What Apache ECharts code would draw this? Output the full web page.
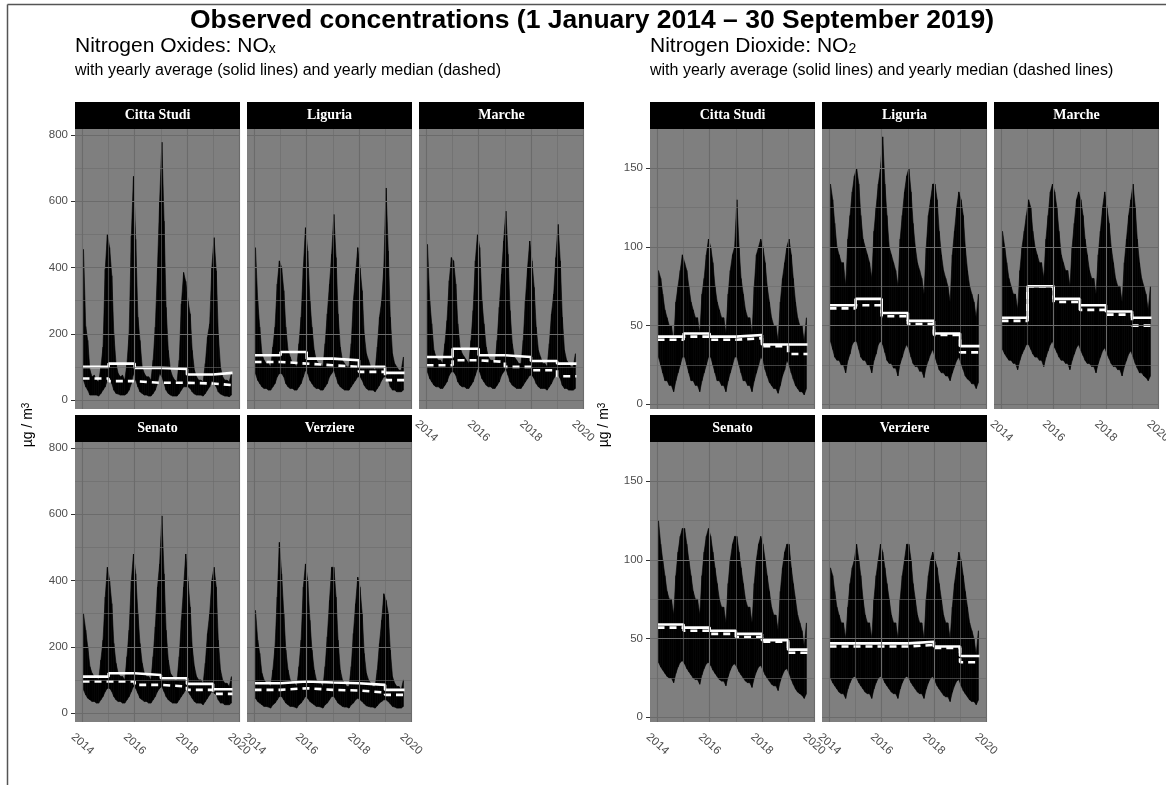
<!DOCTYPE html>
<html>
<head>
<meta charset="utf-8">
<title>Observed concentrations</title>
<script src="https://cdn.jsdelivr.net/npm/echarts@6/dist/echarts.min.js"></script>
<style>
  html, body { margin: 0; padding: 0; background: #ffffff; }
  #chart { width: 1166px; height: 785px; }
</style>
</head>
<body>
<div id="chart"></div>
<script>
// ---- data -------------------------------------------------------------
const stations = ['Citta Studi', 'Liguria', 'Marche', 'Senato', 'Verziere'];
const years = [2014, 2015, 2016, 2017, 2018, 2019];
const xTickYears = [2014, 2016, 2018, 2020];
const xMinorYears = [2015, 2017, 2019];
const noxTicks = [0, 200, 400, 600, 800];
const noxMinor = [100, 300, 500, 700];
const no2Ticks = [0, 50, 100, 150];
const no2Minor = [25, 75, 125, 175];

// monthly low / high of the daily concentrations, Jan 2014 - Sep 2019 (ug/m3)
const noxCittaStudiHi = [455,222,180,90,70,75,60,55,100,160,395,500, 460,375,200,110,80,70,75,60,110,200,495,675, 485,250,180,100,80,70,70,60,120,220,400,600, 778,540,280,150,90,70,60,55,120,290,385,358, 300,260,150,90,70,60,60,55,110,190,230,400, 490,390,200,100,70,60,60,55,80];
const noxCittaStudiLo = [60,40,30,15,15,15,15,12,20,30,40,60, 60,50,30,20,18,15,15,15,20,30,50,80, 60,40,25,20,15,15,12,12,20,30,50,80, 70,50,30,20,15,12,12,12,20,30,40,40, 40,35,25,18,15,15,15,12,20,30,40,60, 50,40,25,18,15,12,12,10,15];
const noxLiguriaHi = [460,300,220,140,120,110,110,100,160,220,350,420, 400,330,220,150,130,110,110,100,170,250,400,520, 450,300,220,150,120,110,110,100,170,260,350,440, 560,430,260,160,120,110,100,100,170,300,380,460, 400,330,200,140,120,100,100,90,160,250,300,400, 640,450,250,140,110,100,90,90,130];
const noxLiguriaLo = [80,60,50,40,35,35,30,30,40,50,70,80, 80,70,50,40,35,35,30,30,40,50,70,90, 80,60,50,40,35,35,30,30,40,50,70,80, 90,70,50,40,35,30,30,30,40,50,60,70, 70,60,45,35,30,30,30,25,35,45,60,70, 70,60,40,30,30,25,25,25,30];
const noxMarcheHi = [470,300,230,150,130,120,120,110,170,240,360,430, 420,350,230,160,140,130,120,110,180,270,420,500, 460,300,230,160,130,120,120,110,180,280,380,480, 570,440,270,170,130,120,110,110,180,300,400,480, 420,340,220,150,130,110,110,100,170,260,320,430, 530,420,250,150,120,110,100,100,140];
const noxMarcheLo = [85,65,55,45,40,40,35,35,45,55,75,85, 85,75,55,45,40,40,35,35,45,55,75,95, 85,65,55,45,40,40,35,35,45,55,75,85, 95,75,55,45,40,35,35,35,45,55,65,75, 75,65,50,40,35,35,35,30,40,50,65,75, 75,65,45,35,35,30,30,30,35];
const noxSenatoHi = [300,250,200,140,120,110,110,100,160,220,350,440, 400,330,210,150,120,110,110,100,170,250,400,480, 420,300,210,150,120,110,110,100,170,260,380,450, 595,420,250,160,120,110,100,100,170,280,380,480, 400,320,200,140,110,100,100,90,150,240,300,400, 440,380,220,130,100,90,90,80,110];
const noxSenatoLo = [70,55,45,40,35,35,30,30,40,50,65,75, 75,65,50,40,35,35,30,30,40,50,65,80, 75,60,45,40,35,35,30,30,40,50,65,75, 80,65,50,40,35,30,30,30,40,50,60,70, 65,55,45,35,30,30,30,25,35,45,55,65, 60,55,40,30,30,25,25,25,30];
const noxVerziereHi = [310,220,180,120,100,90,90,80,130,200,350,515, 420,300,190,130,100,90,90,80,140,220,380,450, 400,280,190,130,100,90,90,80,140,230,340,440, 440,350,220,130,100,90,80,80,140,240,330,410, 380,300,180,120,100,90,80,80,130,210,280,360, 340,300,190,110,90,80,80,70,100];
const noxVerziereLo = [45,35,30,25,20,20,18,15,25,30,40,50, 50,40,30,25,20,20,18,15,25,30,40,50, 45,35,30,25,20,20,18,15,25,30,40,50, 50,40,30,25,20,18,18,15,25,30,40,45, 40,35,28,22,20,18,18,15,22,30,35,40, 40,35,28,20,18,15,15,15,20];

const no2CittaStudiHi = [85,80,70,60,55,50,50,40,65,75,85,95, 90,85,75,65,60,55,55,45,70,80,95,105, 100,90,75,65,60,55,55,45,70,85,95,100, 130,100,80,70,60,55,55,45,75,95,100,105, 100,90,75,65,55,50,50,40,65,80,90,100, 105,95,80,65,55,50,50,40,55];
const no2CittaStudiLo = [30,25,20,15,15,12,12,8,15,20,25,30, 30,25,20,15,15,12,12,8,15,20,25,30, 30,25,20,15,15,12,12,8,15,20,25,30, 30,25,20,15,15,12,12,8,15,20,25,30, 28,22,18,14,12,10,10,7,12,18,22,28, 25,20,16,12,10,8,8,6,10];
const no2LiguriaHi = [140,130,115,100,95,90,90,75,105,120,135,145, 150,140,120,105,100,95,90,80,110,125,140,150, 170,140,120,100,95,90,85,75,105,120,135,145, 150,135,115,100,90,85,80,70,100,120,130,140, 140,130,110,95,85,80,75,65,95,110,125,135, 130,120,100,85,75,70,65,55,70];
const no2LiguriaLo = [40,35,30,28,28,25,25,20,28,32,38,40, 40,35,30,28,28,25,25,20,28,32,38,40, 38,33,28,26,26,23,23,18,26,30,35,38, 35,30,26,24,24,21,21,17,24,28,32,35, 30,26,22,20,20,18,18,15,20,24,28,30, 26,22,18,16,15,13,13,10,14];
const no2MarcheHi = [110,100,90,80,75,70,70,60,85,100,110,120, 130,125,110,100,95,90,90,80,105,120,135,140, 135,125,110,95,90,85,85,75,100,115,130,135, 130,120,105,95,85,80,80,70,95,110,125,135, 125,115,100,90,80,75,75,65,90,105,120,130, 140,125,105,90,80,75,70,60,75];
const no2MarcheLo = [35,32,30,28,28,26,26,22,28,32,35,38, 38,35,32,30,30,28,28,24,30,34,38,40, 36,33,30,28,28,26,26,22,28,32,36,38, 34,31,28,26,26,24,24,20,26,30,34,36, 32,29,26,24,24,22,22,18,24,28,32,34, 30,26,23,20,20,18,17,15,18];
const no2SenatoHi = [125,110,100,90,80,75,75,65,90,105,115,120, 120,110,100,90,80,75,75,65,90,105,115,120, 115,105,95,85,75,70,70,60,85,100,110,115, 115,105,95,85,75,70,70,60,85,100,110,115, 110,100,90,80,70,65,65,55,80,95,105,110, 110,95,85,75,65,60,55,45,60];
const no2SenatoLo = [35,32,30,28,26,25,25,22,28,32,35,36, 34,31,29,27,25,24,24,21,27,31,34,35, 33,30,28,26,24,23,23,20,26,30,33,34, 32,29,27,25,23,22,22,19,25,29,32,33, 30,27,25,23,21,20,20,17,23,27,30,31, 28,24,21,18,16,15,14,12,15];
const no2VerziereHi = [95,90,80,70,65,60,60,50,70,85,95,100, 110,100,90,75,65,60,60,50,75,90,100,110, 105,95,85,75,65,60,60,50,75,90,100,110, 110,100,85,75,65,60,60,50,75,90,100,105, 100,95,85,75,65,60,60,50,70,85,95,105, 100,90,80,70,60,55,50,40,55];
const no2VerziereLo = [25,22,20,18,16,15,15,12,18,22,25,26, 25,22,20,18,16,15,15,12,18,22,25,26, 25,22,20,18,16,15,15,12,18,22,25,26, 25,22,20,18,16,15,15,12,18,22,25,26, 23,20,18,16,14,13,13,10,16,20,23,24, 20,17,15,13,11,10,10,8,11];

// yearly average and yearly median, 2014 - 2019
const noxCittaStudiMean = [100, 110, 97, 94, 77, 82];
const noxCittaStudiMedian = [65, 57, 52, 52, 50, 45];
const noxLiguriaMean = [135, 145, 125, 120, 100, 82];
const noxLiguriaMedian = [115, 110, 105, 100, 85, 60];
const noxMarcheMean = [130, 155, 135, 130, 118, 110];
const noxMarcheMedian = [105, 120, 115, 100, 90, 72];
const noxSenatoMean = [110, 120, 115, 105, 88, 72];
const noxSenatoMedian = [95, 95, 85, 80, 70, 58];
const noxVerziereMean = [90, 95, 92, 90, 85, 70];
const noxVerziereMedian = [70, 75, 70, 68, 62, 55];

const no2CittaStudiMean = [43, 45, 43, 44, 38, 38];
const no2CittaStudiMedian = [41, 43, 41, 42, 37, 32];
const no2LiguriaMean = [63, 67, 58, 53, 45, 37];
const no2LiguriaMedian = [61, 63, 56, 51, 44, 33];
const no2MarcheMean = [55, 75, 67, 63, 59, 55];
const no2MarcheMedian = [53, 75, 65, 60, 57, 50];
const no2SenatoMean = [59, 57, 55, 53, 49, 43];
const no2SenatoMedian = [57, 55, 53, 51, 48, 41];
const no2VerziereMean = [47, 47, 47, 48, 45, 39];
const no2VerziereMedian = [45, 45, 45, 46, 44, 35];

// ---- helpers ----------------------------------------------------------
const startTime = Date.UTC(2014, 0, 1);
const endTime = Date.UTC(2019, 8, 30);
const pad = (endTime - startTime) * 0.05;

const monthTimes = [];
for (let y = 2014; y <= 2019; y++) {
  for (let m = 0; m < 12; m++) {
    if (y === 2019 && m > 8) break;
    monthTimes.push(Date.UTC(y, m, 15));
  }
}
const yearTime = y => Date.UTC(y, 0, 1);

const groups = {
  nox: {
    lefts: [75, 247, 419], min: -27, max: 818, ticks: noxTicks, minor: noxMinor,
    series: [
      [noxCittaStudiLo, noxCittaStudiHi, noxCittaStudiMean, noxCittaStudiMedian],
      [noxLiguriaLo, noxLiguriaHi, noxLiguriaMean, noxLiguriaMedian],
      [noxMarcheLo, noxMarcheHi, noxMarcheMean, noxMarcheMedian],
      [noxSenatoLo, noxSenatoHi, noxSenatoMean, noxSenatoMedian],
      [noxVerziereLo, noxVerziereHi, noxVerziereMean, noxVerziereMedian]
    ]
  },
  no2: {
    lefts: [650, 822, 994], min: -3, max: 175, ticks: no2Ticks, minor: no2Minor,
    series: [
      [no2CittaStudiLo, no2CittaStudiHi, no2CittaStudiMean, no2CittaStudiMedian],
      [no2LiguriaLo, no2LiguriaHi, no2LiguriaMean, no2LiguriaMedian],
      [no2MarcheLo, no2MarcheHi, no2MarcheMean, no2MarcheMedian],
      [no2SenatoLo, no2SenatoHi, no2SenatoMean, no2SenatoMedian],
      [no2VerziereLo, no2VerziereHi, no2VerziereMean, no2VerziereMedian]
    ]
  }
};

const PANEL_W = 165, PANEL_H = 280, STRIP_H = 27;
const rowTops = [129, 442];
const GRID_COLOR = '#6b6b6b';
const LABEL_COLOR = '#4d4d4d';
const sans = '"Liberation Sans", Arial, sans-serif';

const grids = [], xAxes = [], yAxes = [], series = [], graphics = [];

function stepData(values) {
  const d = years.map((y, i) => [yearTime(y), values[i]]);
  d.push([endTime, values[values.length - 1]]);
  return d;
}

// black band between the monthly low and high of the daily series
function bandSeries(gi, lo, hi) {
  const n = monthTimes.length;
  return {
    type: 'custom', xAxisIndex: gi, yAxisIndex: gi, z: 2, clip: true,
    data: monthTimes.map((t, i) => [t, lo[i], hi[i]]),
    encode: { x: 0, y: [1, 2] },
    renderItem: (params, api) => {
      const i = params.dataIndex;
      if (i >= n - 1) return null;
      const pts = [
        api.coord([monthTimes[i], lo[i]]),
        api.coord([monthTimes[i + 1], lo[i + 1]]),
        api.coord([monthTimes[i + 1], hi[i + 1]]),
        api.coord([monthTimes[i], hi[i]])
      ];
      return {
        type: 'polygon', shape: { points: pts },
        style: { fill: '#000000', stroke: '#000000', lineWidth: 0.6 }
      };
    }
  };
}

let gi = 0;
['nox', 'no2'].forEach(key => {
  const g = groups[key];
  stations.forEach((name, si) => {
    const row = si < 3 ? 0 : 1;
    const col = si < 3 ? si : si - 3;
    const left = g.lefts[col];
    const top = rowTops[row];
    const showX = row === 1 || col === 2;
    const showY = col === 0;
    const [lo, hi, mean, median] = g.series[si];

    grids.push({
      left: left, top: top, width: PANEL_W, height: PANEL_H,
      outerBoundsMode: 'none', containLabel: false,
      show: true, backgroundColor: '#7f7f7f', borderWidth: 0
    });
    // time runs along a numeric axis of epoch milliseconds, labelled by year
    xAxes.push({
      gridIndex: gi, type: 'value', min: startTime - pad, max: endTime + pad,
      axisLine: { show: false },
      splitLine: { show: false },
      axisTick: {
        show: showX, customValues: xTickYears.map(yearTime),
        length: 4, lineStyle: { color: '#333333', width: 1 }
      },
      axisLabel: {
        show: showX, customValues: xTickYears.map(yearTime),
        formatter: v => String(new Date(v).getUTCFullYear()),
        rotate: -42, margin: 22, align: 'center', verticalAlign: 'middle',
        color: LABEL_COLOR, fontSize: 11.5, fontFamily: sans
      }
    });
    yAxes.push({
      gridIndex: gi, type: 'value', min: g.min, max: g.max,
      axisLine: { show: false },
      splitLine: { show: false },
      axisTick: {
        show: showY, customValues: g.ticks,
        length: 4, lineStyle: { color: '#333333', width: 1 }
      },
      axisLabel: {
        show: showY, customValues: g.ticks, margin: 7,
        color: LABEL_COLOR, fontSize: 11.5, fontFamily: sans
      }
    });

    // panel grid lines (major and minor) drawn through the axes
    const major = { color: GRID_COLOR, width: 1.1, type: 'solid' };
    const minor = { color: GRID_COLOR, width: 0.6, type: 'solid' };
    const gridLines = []
      .concat(g.ticks.map(v => ({ yAxis: v, lineStyle: major })))
      .concat(g.minor.filter(v => v < g.max).map(v => ({ yAxis: v, lineStyle: minor })))
      .concat(xTickYears.map(y => ({ xAxis: yearTime(y), lineStyle: major })))
      .concat(xMinorYears.map(y => ({ xAxis: yearTime(y), lineStyle: minor })));

    series.push({
      type: 'line', xAxisIndex: gi, yAxisIndex: gi, z: 1,
      data: monthTimes.map((t, i) => [t, lo[i]]),
      symbol: 'none', lineStyle: { width: 0, opacity: 0 },
      markLine: {
        silent: true, symbol: ['none', 'none'], label: { show: false },
        animation: false, data: gridLines
      }
    });
    series.push(bandSeries(gi, lo, hi));
    series.push({
      type: 'line', xAxisIndex: gi, yAxisIndex: gi, step: 'end',
      data: stepData(mean), symbol: 'none',
      lineStyle: { color: '#ffffff', width: 2.6 }, z: 4
    });
    series.push({
      type: 'line', xAxisIndex: gi, yAxisIndex: gi, step: 'end',
      data: stepData(median), symbol: 'none',
      lineStyle: { color: '#ffffff', width: 2.6, type: [7, 5] }, z: 3
    });

    // facet strip
    graphics.push({
      type: 'rect', shape: { x: left, y: top - STRIP_H, width: PANEL_W, height: STRIP_H },
      style: { fill: '#000000' }, silent: true
    });
    graphics.push({
      type: 'text', x: left + PANEL_W / 2, y: top - STRIP_H / 2,
      style: {
        text: name, fill: '#ffffff', align: 'center', verticalAlign: 'middle',
        font: 'bold 14px "Liberation Serif", "Times New Roman", serif'
      }, silent: true
    });
    gi++;
  });
});

// titles, y-axis titles and frame
graphics.push(
  { type: 'line', shape: { x1: 7.5, y1: 4.5, x2: 1166, y2: 4.5 }, style: { stroke: '#555555', lineWidth: 1.5 } },
  { type: 'line', shape: { x1: 7.5, y1: 4.5, x2: 7.5, y2: 785 }, style: { stroke: '#555555', lineWidth: 1.5 } },
  {
    type: 'text', x: 592, y: 21,
    style: {
      text: 'Observed concentrations (1 January 2014 \u2013 30 September 2019)',
      align: 'center', verticalAlign: 'middle', fill: '#000',
      font: 'bold 26.5px ' + sans
    }
  },
  {
    type: 'text', x: 75, y: 45,
    style: {
      text: '{a|Nitrogen Oxides: NO}{s|x}', align: 'left', verticalAlign: 'middle',
      rich: {
        a: { fontSize: 21, fontFamily: sans, fill: '#000', verticalAlign: 'bottom', lineHeight: 23 },
        s: { fontSize: 14, fontFamily: sans, fill: '#000', verticalAlign: 'bottom', lineHeight: 13 }
      }
    }
  },
  {
    type: 'text', x: 75, y: 71,
    style: {
      text: 'with yearly average (solid lines) and yearly median (dashed)',
      align: 'left', verticalAlign: 'middle', fill: '#000', font: '16px ' + sans
    }
  },
  {
    type: 'text', x: 650, y: 45,
    style: {
      text: '{a|Nitrogen Dioxide: NO}{s|2}', align: 'left', verticalAlign: 'middle',
      rich: {
        a: { fontSize: 21, fontFamily: sans, fill: '#000', verticalAlign: 'bottom', lineHeight: 23 },
        s: { fontSize: 14, fontFamily: sans, fill: '#000', verticalAlign: 'bottom', lineHeight: 13 }
      }
    }
  },
  {
    type: 'text', x: 650, y: 71,
    style: {
      text: 'with yearly average (solid lines) and yearly median (dashed lines)',
      align: 'left', verticalAlign: 'middle', fill: '#000', font: '16px ' + sans
    }
  }
);
// y-axis titles, centred on the panel area of each group
[29, 605].forEach(x => {
  graphics.push({
    type: 'text', x: x, y: 425, rotation: Math.PI / 2,
    style: {
      text: '{a|\u00b5g / m}{s|3}', align: 'center', verticalAlign: 'middle',
      rich: {
        a: { fontSize: 14, fontFamily: sans, fill: '#000', verticalAlign: 'top', lineHeight: 16 },
        s: { fontSize: 10, fontFamily: sans, fill: '#000', verticalAlign: 'top', lineHeight: 10 }
      }
    }
  });
});

const chart = echarts.init(document.getElementById('chart'), null, { renderer: 'canvas' });
chart.setOption({
  animation: false,
  backgroundColor: '#ffffff',
  grid: grids,
  xAxis: xAxes,
  yAxis: yAxes,
  series: series,
  graphic: { elements: graphics }
});
</script>
</body>
</html>
